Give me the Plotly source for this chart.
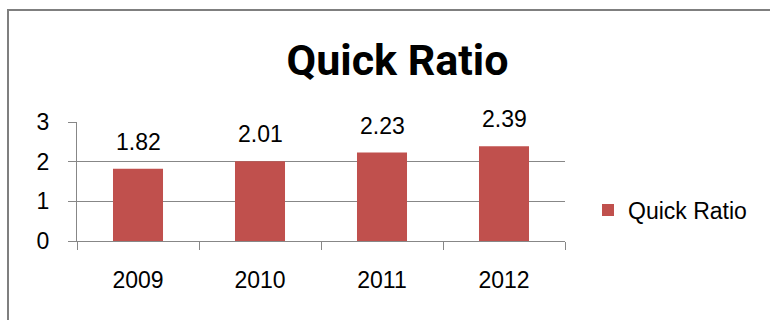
import plotly.graph_objects as go

years = ["2009", "2010", "2011", "2012"]
quick_ratio = [1.82, 2.01, 2.23, 2.39]
label_text = ["1.82", "2.01", "2.23", "2.39"]
series_name = "Quick Ratio"
title_text = "Quick Ratio"

W, H = 770, 320
ml, mr, mt, mb = 77, 205, 122, 79
pw = W - ml - mr
ph = H - mt - mb

gray = "#878787"
bar_color = "#C0504D"
font_main = "Liberation Sans, Arial, sans-serif"

fig = go.Figure()
fig.add_trace(go.Bar(
    x=years, y=quick_ratio, name=series_name,
    marker=dict(color=bar_color, line=dict(width=0)),
    width=0.41, showlegend=True,
))

for i, (v, t) in enumerate(zip(quick_ratio, label_text)):
    fig.add_annotation(x=i, y=v, text=t, showarrow=False, yshift=27,
                       yanchor="middle", xanchor="center",
                       font=dict(family=font_main, size=23, color="#000000"))

# outer chart frame
fig.add_shape(type="rect", xref="paper", yref="paper",
              x0=(8 - ml) / pw, x1=(W + 20 - ml) / pw,
              y0=-(H + 20 - (mt + ph)) / ph, y1=(mt + ph - 10) / ph,
              line=dict(color="#7f7f7f", width=2), fillcolor="rgba(0,0,0,0)",
              layer="below")

fig.update_layout(
    width=W, height=H,
    margin=dict(l=ml, r=mr, t=mt, b=mb, autoexpand=False),
    paper_bgcolor="white", plot_bgcolor="white",
    title=dict(text="<b>" + title_text + "</b>", x=397.5 / W, xref="container",
               xanchor="center", y=1 - 60 / H, yref="container", yanchor="middle",
               font=dict(family="Roboto, sans-serif", size=43, color="#000000")),
    legend=dict(x=(588 - ml) / pw, y=(mt + ph - 210) / ph, xanchor="left",
                yanchor="middle", font=dict(family=font_main, size=23, color="#000000"),
                bgcolor="rgba(0,0,0,0)"),
    xaxis=dict(type="category", range=[-0.5, len(years) - 0.5],
               tickson="boundaries", ticks="outside", ticklen=8,
               tickcolor=gray, tickwidth=1, showline=True, linecolor=gray, linewidth=1,
               showgrid=False, ticklabelstandoff=18, tickangle=0,
               tickfont=dict(family=font_main, size=23, color="#000000")),
    yaxis=dict(range=[0, 3], dtick=1, tick0=0, ticks="outside", ticklen=8,
               tickcolor=gray, tickwidth=1, showline=True, linecolor=gray, linewidth=1,
               showgrid=True, gridcolor=gray, gridwidth=1, zeroline=False,
               ticklabelstandoff=14,
               tickfont=dict(family=font_main, size=23, color="#000000")),
)

fig.write_html("out.html", config={"displayModeBar": False},
               post_script="document.body.style.margin='0';document.body.style.overflow='hidden';")
